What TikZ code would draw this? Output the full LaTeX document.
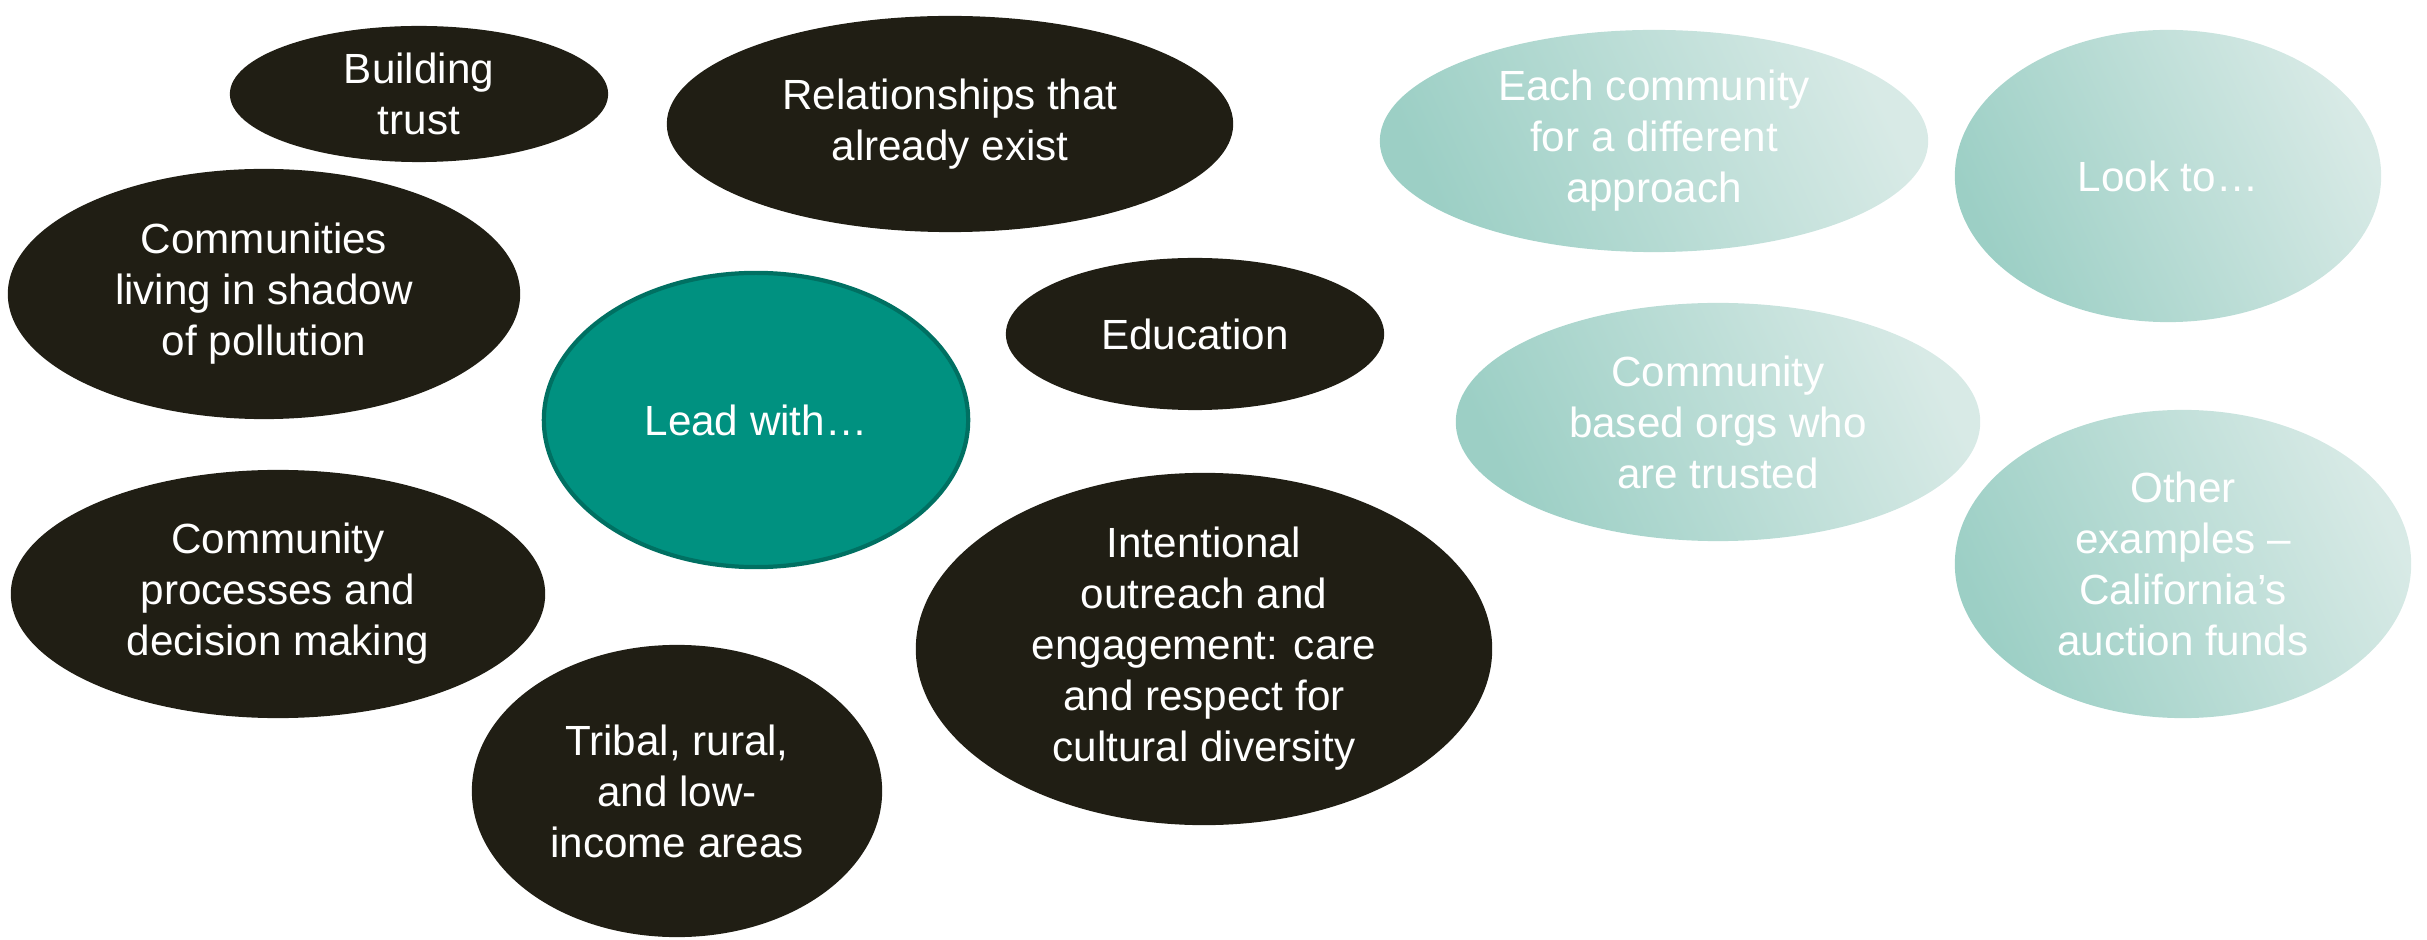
\documentclass[tikz,border=0pt]{standalone}
\usepackage{fontspec}
\setmainfont{Liberation Sans}
\usetikzlibrary{shapes.geometric}
\definecolor{darkbubble}{RGB}{32,30,20}
\definecolor{leadteal}{RGB}{0,145,128}
\definecolor{leadedge}{RGB}{0,112,98}
\definecolor{palelow}{RGB}{156,207,197}
\definecolor{palehigh}{RGB}{216,234,230}

\tikzset{
  bubble/.style 2 args={ellipse, inner sep=0pt, minimum width=#1*0.02cm,
    minimum height=#2*0.02cm, text=white, align=center,
    font=\fontsize{12}{14.5}\selectfont},
  darkb/.style={fill=darkbubble},
  leadb/.style={fill=leadteal, draw=leadedge, line width=1.2pt},
  paleb/.style={left color=palelow, right color=palehigh, shading angle=115}
}

\begin{document}
\begin{tikzpicture}[x=0.01cm, y=-0.01cm]
  \useasboundingbox (0,0) rectangle (2427,940);

  % dark bubbles
  \node[bubble={189}{68}, darkb] (trust) at (419,94) {Building\\trust};
  \node[bubble={283}{108}, darkb] (relations) at (950,124) {Relationships that\\already exist};
  \node[bubble={256}{125}, darkb] (shadow) at (264,294) {Communities\\living in shadow\\of pollution};
  \node[bubble={189}{76}, darkb] (education) at (1195,334) {Education};
  \node[bubble={267}{124}, darkb] (processes) at (278,594) {Community\\processes and\\decision making};
  \node[bubble={288}{176}, darkb] (outreach) at (1204,649) {Intentional\\outreach and\\engagement: care\\and respect for\\cultural diversity};
  \node[bubble={205}{146}, darkb] (tribal) at (677,791) {Tribal, rural,\\and low-\\income areas};

  % centre
  \node[bubble={212}{147}, leadb] (lead) at (756,420) {Lead with…};

  % pale bubbles
  \node[bubble={274}{111}, paleb] (approach) at (1654,141) {Each community\\for a different\\approach};
  \node[bubble={213}{146}, paleb] (lookto) at (2168,176) {Look to…};
  \node[bubble={262}{119}, paleb] (orgs) at (1718,422) {Community\\based orgs who\\are trusted};
  \node[bubble={228}{154}, paleb] (others) at (2183,564) {Other\\examples --\\California’s\\auction funds};
\end{tikzpicture}
\end{document}
